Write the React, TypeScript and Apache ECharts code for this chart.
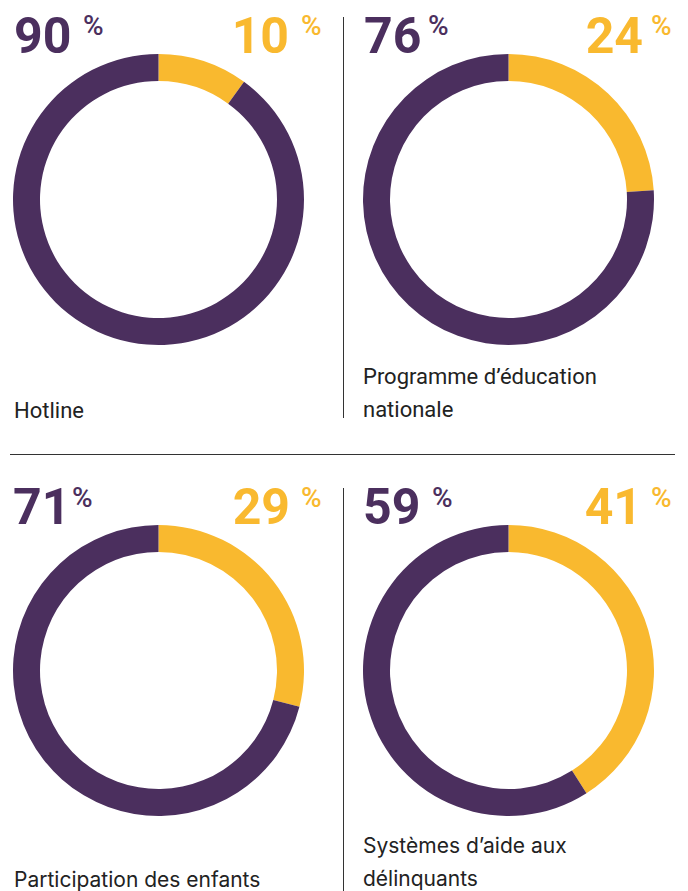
import React, { useEffect, useRef } from "react";
import * as echarts from "echarts";

const categories: string[][] = [
  ["Hotline"],
  ["Programme d’éducation", "nationale"],
  ["Participation des enfants"],
  ["Systèmes d’aide aux", "délinquants"],
];
const purpleValues = [90, 76, 71, 59];
const yellowValues = [10, 24, 29, 41];

const PURPLE = "#4b2f5e";
const YELLOW = "#f9b92f";

export default function App() {
  const ref = useRef<HTMLDivElement>(null);
  useEffect(() => {
    document.body.style.margin = "0";
    const chart = echarts.init(ref.current!, null, { renderer: "svg" });
    const centers = [
      [158.5, 199.5],
      [508.5, 199.5],
      [158.5, 670.5],
      [508.5, 670.5],
    ];
    const series: any[] = centers.map((c, i) => ({
      type: "pie",
      center: c,
      radius: [118.5, 145.5],
      startAngle: 90,
      clockwise: true,
      silent: true,
      label: { show: false },
      labelLine: { show: false },
      emphasis: { disabled: true },
      itemStyle: { borderWidth: 0 },
      data: [
        { name: "b", value: yellowValues[i], itemStyle: { color: YELLOW } },
        { name: "a", value: purpleValues[i], itemStyle: { color: PURPLE } },
      ],
    }));

    const numFont = "Roboto";
    const graphics: any[] = [];
    const pos = [
      [14, 83, 289, 301, 36, 25],
      [364, 428, 643, 651, 36, 25],
      [13, 72, 290, 301, 507, 497],
      [363, 432, 642, 651, 507, 497],
    ];
    pos.forEach((p, i) => {
      graphics.push({
        type: "text",
        x: p[0],
        y: p[4],
        style: {
          text: String(purpleValues[i]),
          fill: PURPLE,
          font: `bold 50px ${numFont}`,
          align: "left",
          verticalAlign: "middle",
        },
      });
      graphics.push({
        type: "text",
        x: p[1],
        y: p[5],
        style: {
          text: "%",
          fill: PURPLE,
          font: `500 28px ${numFont}`,
          align: "left",
          verticalAlign: "middle",
        },
      });
      graphics.push({
        type: "text",
        x: p[2],
        y: p[4],
        style: {
          text: String(yellowValues[i]),
          fill: YELLOW,
          font: `bold 50px ${numFont}`,
          align: "right",
          verticalAlign: "middle",
        },
      });
      graphics.push({
        type: "text",
        x: p[3],
        y: p[5],
        style: {
          text: "%",
          fill: YELLOW,
          font: `500 28px ${numFont}`,
          align: "left",
          verticalAlign: "middle",
        },
      });
    });

    const labelPos = [
      [14, 410],
      [363, 376],
      [14, 879],
      [363, 845],
    ];
    categories.forEach((lines, i) => {
      lines.forEach((t, j) => {
        graphics.push({
          type: "text",
          x: labelPos[i][0],
          y: labelPos[i][1] + j * 33,
          style: {
            text: t,
            fill: "#222",
            font: i < 2 ? "22px Roboto" : "21px Inter",
            align: "left",
            verticalAlign: "middle",
          },
        });
      });
    });

    graphics.push({
      type: "line",
      shape: { x1: 343.5, y1: 17, x2: 343.5, y2: 418 },
      style: { stroke: "#333", lineWidth: 1 },
    });
    graphics.push({
      type: "line",
      shape: { x1: 343.5, y1: 488, x2: 343.5, y2: 891 },
      style: { stroke: "#333", lineWidth: 1 },
    });
    graphics.push({
      type: "line",
      shape: { x1: 10, y1: 454.5, x2: 675, y2: 454.5 },
      style: { stroke: "#333", lineWidth: 1 },
    });

    chart.setOption({
      animation: false,
      backgroundColor: "#ffffff",
      series,
      graphic: graphics,
    });
    return () => chart.dispose();
  }, []);
  return <div ref={ref} style={{ width: 688, height: 891 }} />;
}
